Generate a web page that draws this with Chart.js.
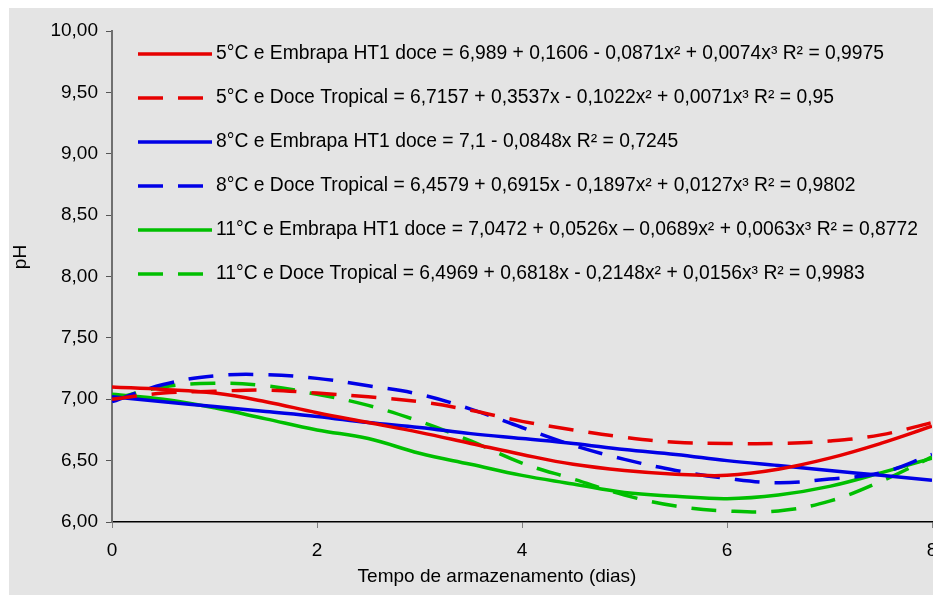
<!DOCTYPE html>
<html><head><meta charset="utf-8">
<script src="https://cdn.jsdelivr.net/npm/chart.js@4/dist/chart.umd.min.js"></script>
<style>html,body{margin:0;padding:0;background:#fff}#wrap{width:933px;height:595px;position:relative}canvas{display:block}</style>
</head><body><div id="wrap"><canvas id="c" width="933" height="595"></canvas></div>
<script>
// ---- data ----
const days = [0, 0.5, 1, 1.5, 2, 2.5, 3, 3.5, 4, 4.5, 5, 5.5, 6, 6.5, 7, 7.5, 8];
const embrapa5 = [7.10, 7.08, 7.05, 6.98, 6.89, 6.81, 6.73, 6.64, 6.55, 6.47, 6.42, 6.39, 6.38, 6.43, 6.52, 6.64, 6.78];
const tropical5 = [7.00, 7.05, 7.065, 7.075, 7.05, 7.02, 6.98, 6.91, 6.82, 6.75, 6.69, 6.65, 6.64, 6.64, 6.66, 6.71, 6.81];
const embrapa8 = [7.02, 6.98, 6.94, 6.90, 6.86, 6.81, 6.77, 6.72, 6.68, 6.64, 6.59, 6.55, 6.50, 6.46, 6.42, 6.38, 6.34];
const tropical8 = [6.98, 7.12, 7.19, 7.20, 7.17, 7.11, 7.04, 6.92, 6.77, 6.625, 6.51, 6.42, 6.355, 6.32, 6.35, 6.40, 6.55];
const embrapa11 = [7.04, 7.00, 6.93, 6.84, 6.75, 6.68, 6.56, 6.47, 6.38, 6.31, 6.24, 6.21, 6.19, 6.22, 6.29, 6.40, 6.52];
const tropical11 = [7.00, 7.10, 7.13, 7.11, 7.04, 6.95, 6.82, 6.66, 6.48, 6.35, 6.22, 6.13, 6.09, 6.09, 6.17, 6.33, 6.53];
const seriesLabels = [
  "5°C e Embrapa HT1 doce = 6,989 + 0,1606 - 0,0871x² + 0,0074x³ R² = 0,9975",
  "5°C e Doce Tropical = 6,7157 + 0,3537x - 0,1022x² + 0,0071x³ R² = 0,95",
  "8°C e Embrapa HT1 doce = 7,1 - 0,0848x R² = 0,7245",
  "8°C e Doce Tropical = 6,4579 + 0,6915x - 0,1897x² + 0,0127x³ R² = 0,9802",
  "11°C e Embrapa HT1 doce = 7,0472 + 0,0526x – 0,0689x² + 0,0063x³ R² = 0,8772",
  "11°C e Doce Tropical = 6,4969 + 0,6818x - 0,2148x² + 0,0156x³ R² = 0,9983"
];
const xTitle = "Tempo de armazenamento (dias)";
const yTitle = "pH";

const RED = '#e60000', BLUE = '#0000e6', GREEN = '#00bf00';
const FONT = '"Liberation Sans", Arial, sans-serif';
const DASH = [25, 15];
const seriesValues = [embrapa5, tropical5, embrapa8, tropical8, embrapa11, tropical11];
const seriesColors = [RED, RED, BLUE, BLUE, GREEN, GREEN];
const seriesDashed = [false, true, false, true, false, true];

const datasets = seriesValues.map((vals, i) => ({
  label: seriesLabels[i],
  data: days.map((d, j) => ({x: d, y: vals[j]})),
  borderColor: seriesColors[i],
  borderWidth: 3.5,
  borderDash: seriesDashed[i] ? DASH : [],
  pointRadius: 0,
  tension: 0.4,
  fill: false
}));

const bgPlugin = {
  id: 'bg',
  beforeDraw(chart) {
    const ctx = chart.ctx;
    ctx.save();
    ctx.fillStyle = '#ffffff';
    ctx.fillRect(0, 0, chart.width, chart.height);
    ctx.fillStyle = '#e4e4e4';
    ctx.fillRect(9, 8, chart.width - 9, chart.height - 8);
    ctx.restore();
  }
};

const legendPlugin = {
  id: 'inLegend',
  afterDatasetsDraw(chart) {
    const ctx = chart.ctx;
    ctx.save();
    chart.data.datasets.forEach((ds, i) => {
      const y = 54 + i * 44;
      ctx.strokeStyle = ds.borderColor;
      ctx.lineWidth = 3.5;
      ctx.setLineDash(ds.borderDash || []);
      ctx.beginPath();
      ctx.moveTo(138, y);
      ctx.lineTo(212, y);
      ctx.stroke();
      ctx.setLineDash([]);
      ctx.fillStyle = '#000';
      ctx.font = '19.3px ' + FONT;
      ctx.textBaseline = 'middle';
      ctx.textAlign = 'left';
      ctx.fillText(ds.label, 216, y);
    });
    ctx.restore();
  }
};

const titlesPlugin = {
  id: 'axisTitles',
  afterDraw(chart) {
    const ctx = chart.ctx;
    ctx.save();
    ctx.fillStyle = '#000';
    ctx.font = '19px ' + FONT;
    ctx.textAlign = 'center';
    ctx.textBaseline = 'middle';
    ctx.fillText(xTitle, 497, 577);
    ctx.translate(21, 257);
    ctx.rotate(-Math.PI / 2);
    ctx.fillText(yTitle, 0, 0);
    ctx.restore();
  }
};

new Chart(document.getElementById('c'), {
  type: 'line',
  data: {datasets},
  options: {
    responsive: false,
    animation: false,
    devicePixelRatio: 1,
    layout: {padding: {top: 31, right: 1, left: 0, bottom: 0}},
    plugins: {legend: {display: false}, tooltip: {enabled: false}},
    scales: {
      x: {
        type: 'linear', min: 0, max: 8,
        afterFit(s) { s.height = 73; s.paddingLeft = 0; s.paddingRight = 0; },
        ticks: {stepSize: 2, color: '#000', font: {family: FONT, size: 19}, padding: 11, maxRotation: 0},
        grid: {drawOnChartArea: false, drawTicks: true, tickLength: 6, color: '#808080'},
        border: {display: true, color: '#000', width: 1.5}
      },
      y: {
        min: 6, max: 10,
        afterFit(s) { s.width = 112; s.paddingTop = 0; s.paddingBottom = 0; },
        ticks: {stepSize: 0.5, color: '#000', font: {family: FONT, size: 19}, padding: 8,
          callback: v => v.toFixed(2).replace('.', ',')},
        grid: {drawOnChartArea: false, drawTicks: true, tickLength: 6, color: '#555'},
        border: {display: true, color: '#707070', width: 2}
      }
    }
  },
  plugins: [bgPlugin, legendPlugin, titlesPlugin]
});
</script>
</body></html>
